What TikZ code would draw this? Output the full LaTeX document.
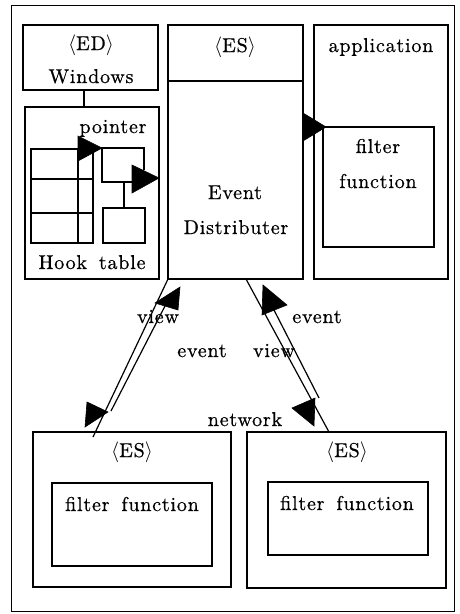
\documentclass[tikz,border=0pt]{standalone}
\usepackage{fontspec}
\setmainfont{lmroman10-regular.otf}[LetterSpace=4,WordSpace=1.6,FakeBold=0.6]
\usetikzlibrary{fit}
\begin{document}
\begin{tikzpicture}[x=1pt,y=-1pt,
  box/.style={draw,line width=1.2pt,inner sep=0pt,outer sep=0pt},
  lbl/.style={inner sep=0pt,anchor=base},
  conn/.style={line width=1.2pt},
  head/.style={fill=black,draw=black,line width=0.6pt,line join=miter},
  font=\fontsize{20}{24}\selectfont]
\useasboundingbox (0,0) rectangle (459,614);
% outer frame
\draw[line width=1pt] (11,5) rectangle (454,611);
% boxes
\node[box,fit={(23,25) (158,90)}] (ed) {};
\node[box,fit={(25,107) (159,279)}] (hook) {};
\node[box,fit={(168,25) (303,279)}] (es) {};
\node[box,fit={(314,25) (448,279)}] (app) {};
\node[box,fit={(323,127) (434,247)}] (appf) {};
\node[box,fit={(33,432) (231,587)}] (esl) {};
\node[box,fit={(52,483) (212,566)}] (eslf) {};
\node[box,fit={(247,432) (446,588)}] (esr) {};
\node[box,fit={(268,482) (428,555)}] (esrf) {};
\node[box,fit={(31,149) (93,243)}] (table) {};
\node[box,fit={(103,208) (145,243)}] (slot) {};
% ES divider
\draw[conn] (es.west |- 0,81) -- (es.east |- 0,81);
% table grid
\draw[conn] (table.north -| 78,0) -- (table.south -| 78,0);
\draw[conn] (table.west |- 0,179) -- (table.east |- 0,179);
\draw[conn] (table.west |- 0,213) -- (table.east |- 0,213);
% ED - hook connector
\draw[conn] (ed.south -| 84,0) -- (hook.north -| 84,0);
% pointer loop
\coordinate (p1) at (102,148);
\coordinate (p2) at (144,148);
\coordinate (p3) at (144,170);
\coordinate (p4) at (102,182);
\coordinate (p5) at (134,182);
\draw[conn] (p3) -- (p2) -- (p1) -- (p4) -- (p5);
\draw[conn] (124,182) -- (slot.north -| 124,0);
\fill[head] (78,136) -- (p1) -- (78,161) -- cycle;
\fill[head] (132,165) -- (hook.east |- 0,178) -- (132,193) -- cycle;
% ES -> application filter
\coordinate (ftip) at (326,127);
\fill[head] (es.east |- 0,113) -- (ftip) -- (es.east |- 0,141) -- cycle;
% left pair
\coordinate (a1) at (168,279);
\coordinate (a2) at (93,437);
\draw[conn] (a1) -- (a2);
\draw[conn] (165,306) -- (111,411);
\fill[head] (180,287) -- (155,303) -- (178,310) -- cycle;
\fill[head] (85,427) -- (87,402) -- (108,412) -- cycle;
% right pair
\coordinate (c1) at (246,279);
\coordinate (c2) at (329,432);
\draw[conn] (c1) -- (c2);
\draw[conn] (274,310) -- (319,398);
\fill[head] (263,285) -- (287,305) -- (262,315) -- cycle;
\fill[head] (292,408) -- (315,398) -- (314,426) -- cycle;
% texts
\node[lbl] at (91,50) {$\langle$ED$\rangle$};
\node[lbl] at (91,83) {Windows};
\node[lbl] at (113,133) {pointer};
\node[lbl] at (92,269) {Hook table};
\node[lbl] at (235,52) {$\langle$ES$\rangle$};
\node[lbl] at (235,199) {Event};
\node[lbl] at (236,234) {Distributer};
\node[lbl] at (381,52) {application};
\node[lbl] at (378,153) {filter};
\node[lbl] at (378,188) {function};
\node[lbl] at (158,323) {view};
\node[lbl] at (202,357) {event};
\node[lbl] at (274,357) {view};
\node[lbl] at (317,323) {event};
\node[lbl] at (245,426) {network};
\node[lbl] at (132,457) {$\langle$ES$\rangle$};
\node[lbl] at (132,511) {filter function};
\node[lbl] at (347,457) {$\langle$ES$\rangle$};
\node[lbl] at (347,510) {filter function};
\end{tikzpicture}
\end{document}
